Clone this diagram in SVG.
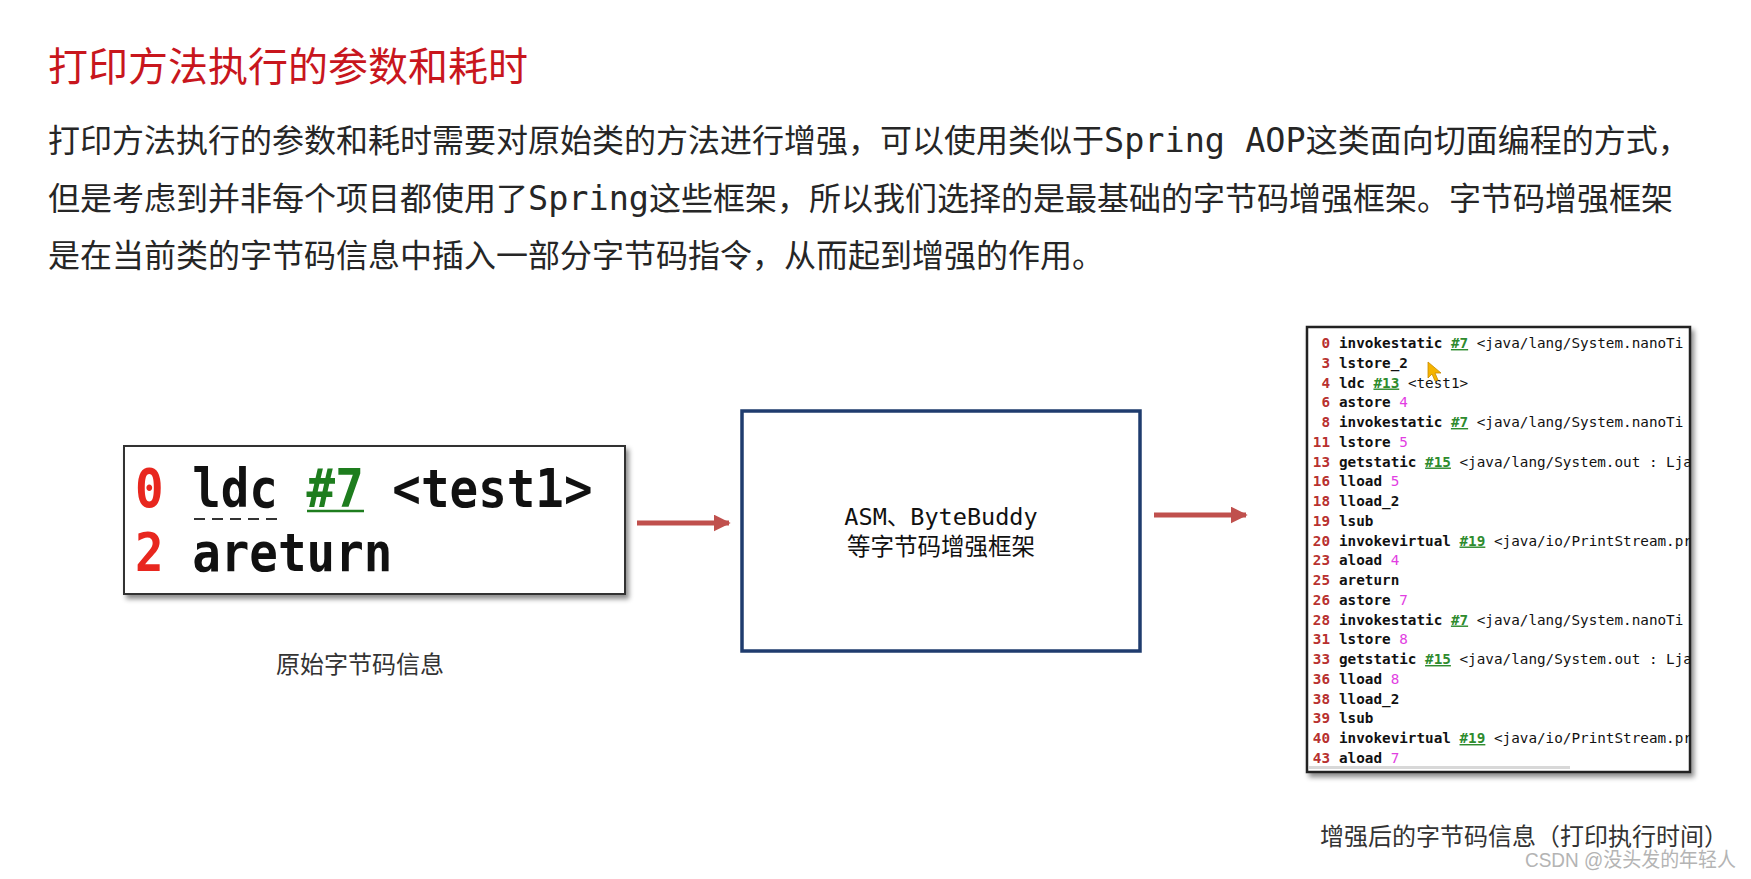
<svg xmlns="http://www.w3.org/2000/svg" width="1751" height="879" viewBox="0 0 1751 879">
<style>
.cjk{font-family:"Noto Sans CJK SC","Noto Sans",sans-serif}
.mono{font-family:"DejaVu Sans Mono","Liberation Mono",monospace}
.title{font-size:40px;fill:#c8161d}
.para{font-size:32px;fill:#262626}
.pmono{font-family:"DejaVu Sans Mono","Liberation Mono",monospace;font-size:33.5px}
.cap{font-size:24px;fill:#333}
.code{font-family:"DejaVu Sans Mono","Liberation Mono",monospace;font-size:14.3px;font-weight:bold;fill:#111}
.num{fill:#b8312f}
.ref{fill:#2e8b2e;text-decoration:underline}
.arg{fill:#e23ee2}
.desc{font-weight:normal}
.big{font-family:"DejaVu Sans Mono","Liberation Mono",monospace;font-size:47.5px;font-weight:bold;fill:#111}
.arrow{stroke:#c0504d;stroke-width:5;fill:none}
</style>
<defs>
<filter id="shadow" x="-10%" y="-10%" width="120%" height="125%">
<feDropShadow dx="3" dy="4" stdDeviation="2.5" flood-color="#000" flood-opacity="0.45"/>
</filter>
<marker id="ah" viewBox="0 0 10 10" refX="9" refY="5" markerWidth="3.4" markerHeight="3.4" orient="auto" markerUnits="strokeWidth">
<path d="M0,0 L10,5 L0,10 z" fill="#c0504d"/>
</marker>
<clipPath id="clipR"><rect x="1307" y="327" width="383" height="445"/></clipPath>
</defs>
<rect width="1751" height="879" fill="#fff"/>

<g id="title">
<text class="cjk title" x="48" y="81">打印方法执行的参数和耗时</text>
</g>

<g id="paragraph" class="cjk para">
<text x="48" y="152">打印方法执行的参数和耗时需要对原始类的方法进行增强，可以使用类似于<tspan class="pmono">Spring AOP</tspan>这类面向切面编程的方式，</text>
<text x="48" y="210">但是考虑到并非每个项目都使用了<tspan class="pmono">Spring</tspan>这些框架，所以我们选择的是最基础的字节码增强框架。字节码增强框架</text>
<text x="48" y="267">是在当前类的字节码信息中插入一部分字节码指令，从而起到增强的作用。</text>
</g>

<g id="node-original">
<rect x="124" y="446" width="501" height="148" fill="#fff" stroke="#333" stroke-width="2" filter="url(#shadow)"/>
<g transform="translate(135,507) scale(1,1.12)">
<text class="big" x="0" y="0"><tspan fill="#e8271f">0</tspan> ldc <tspan fill="#1e7d1e">#7</tspan> &lt;test1&gt;</text>
</g>
<g transform="translate(135,571) scale(1,1.12)">
<text class="big" x="0" y="0"><tspan fill="#e8271f">2</tspan> areturn</text>
</g>
<line x1="307" y1="511" x2="364" y2="511" stroke="#1e7d1e" stroke-width="2.5"/>
<line x1="194" y1="519" x2="280" y2="519" stroke="#333" stroke-width="2" stroke-dasharray="11,7"/>
</g>

<g id="caption-original">
<text class="cjk cap" x="360" y="673" text-anchor="middle">原始字节码信息</text>
</g>

<g id="node-framework">
<rect x="742" y="411" width="398" height="240" fill="#fff" stroke="#1f3c6e" stroke-width="3.5"/>
<text class="cjk" x="941" y="525" text-anchor="middle" font-size="23.5" fill="#111"><tspan class="mono">ASM</tspan>、<tspan class="mono">ByteBuddy</tspan></text>
<text class="cjk" x="941" y="555" text-anchor="middle" font-size="23.5" fill="#111">等字节码增强框架</text>
</g>

<g id="node-enhanced">
<rect x="1307" y="327" width="383" height="445" fill="#fff" stroke="#222" stroke-width="2.5" filter="url(#shadow)"/>
<g clip-path="url(#clipR)">
<g class="code">
<text x="1330" y="348" text-anchor="end" class="num">0</text>
<text x="1339" y="348">invokestatic <tspan class="ref">#7</tspan> <tspan class="desc">&lt;java/lang/System.nanoTi</tspan></text>
<text x="1330" y="367.75" text-anchor="end" class="num">3</text>
<text x="1339" y="367.75">lstore_2</text>
<text x="1330" y="387.5" text-anchor="end" class="num">4</text>
<text x="1339" y="387.5">ldc <tspan class="ref">#13</tspan> <tspan class="desc">&lt;test1&gt;</tspan></text>
<text x="1330" y="407.25" text-anchor="end" class="num">6</text>
<text x="1339" y="407.25">astore <tspan class="arg desc">4</tspan></text>
<text x="1330" y="427" text-anchor="end" class="num">8</text>
<text x="1339" y="427">invokestatic <tspan class="ref">#7</tspan> <tspan class="desc">&lt;java/lang/System.nanoTi</tspan></text>
<text x="1330" y="446.75" text-anchor="end" class="num">11</text>
<text x="1339" y="446.75">lstore <tspan class="arg desc">5</tspan></text>
<text x="1330" y="466.5" text-anchor="end" class="num">13</text>
<text x="1339" y="466.5">getstatic <tspan class="ref">#15</tspan> <tspan class="desc">&lt;java/lang/System.out : Lja</tspan></text>
<text x="1330" y="486.25" text-anchor="end" class="num">16</text>
<text x="1339" y="486.25">lload <tspan class="arg desc">5</tspan></text>
<text x="1330" y="506" text-anchor="end" class="num">18</text>
<text x="1339" y="506">lload_2</text>
<text x="1330" y="525.75" text-anchor="end" class="num">19</text>
<text x="1339" y="525.75">lsub</text>
<text x="1330" y="545.5" text-anchor="end" class="num">20</text>
<text x="1339" y="545.5">invokevirtual <tspan class="ref">#19</tspan> <tspan class="desc">&lt;java/io/PrintStream.pr</tspan></text>
<text x="1330" y="565.25" text-anchor="end" class="num">23</text>
<text x="1339" y="565.25">aload <tspan class="arg desc">4</tspan></text>
<text x="1330" y="585" text-anchor="end" class="num">25</text>
<text x="1339" y="585">areturn</text>
<text x="1330" y="604.75" text-anchor="end" class="num">26</text>
<text x="1339" y="604.75">astore <tspan class="arg desc">7</tspan></text>
<text x="1330" y="624.5" text-anchor="end" class="num">28</text>
<text x="1339" y="624.5">invokestatic <tspan class="ref">#7</tspan> <tspan class="desc">&lt;java/lang/System.nanoTi</tspan></text>
<text x="1330" y="644.25" text-anchor="end" class="num">31</text>
<text x="1339" y="644.25">lstore <tspan class="arg desc">8</tspan></text>
<text x="1330" y="664" text-anchor="end" class="num">33</text>
<text x="1339" y="664">getstatic <tspan class="ref">#15</tspan> <tspan class="desc">&lt;java/lang/System.out : Lja</tspan></text>
<text x="1330" y="683.75" text-anchor="end" class="num">36</text>
<text x="1339" y="683.75">lload <tspan class="arg desc">8</tspan></text>
<text x="1330" y="703.5" text-anchor="end" class="num">38</text>
<text x="1339" y="703.5">lload_2</text>
<text x="1330" y="723.25" text-anchor="end" class="num">39</text>
<text x="1339" y="723.25">lsub</text>
<text x="1330" y="743" text-anchor="end" class="num">40</text>
<text x="1339" y="743">invokevirtual <tspan class="ref">#19</tspan> <tspan class="desc">&lt;java/io/PrintStream.pr</tspan></text>
<text x="1330" y="762.75" text-anchor="end" class="num">43</text>
<text x="1339" y="762.75">aload <tspan class="arg desc">7</tspan></text>
</g>
<rect x="1309" y="766" width="261" height="3" fill="#d8d8d8"/>
</g>
<path d="M1428,362 L1428,378 L1432,374 L1435,381 L1438,380 L1435,373 L1441,373 Z" fill="#f5b400" stroke="#c98a00" stroke-width="0.8"/>
</g>

<g id="caption-enhanced">
<text class="cjk" x="1524" y="845" text-anchor="middle" font-size="24" fill="#333">增强后的字节码信息（打印执行时间）</text>
</g>

<g id="connectors">
<line class="arrow" x1="637" y1="523" x2="729" y2="523" marker-end="url(#ah)"/>
<line class="arrow" x1="1154" y1="515" x2="1246" y2="515" marker-end="url(#ah)"/>
</g>

<g id="watermark">
<text x="1525" y="867" font-family="'Liberation Sans','Noto Sans CJK SC',sans-serif" font-size="20" fill="#b4b4b4" textLength="211" lengthAdjust="spacingAndGlyphs">CSDN @没头发的年轻人</text>
</g>
</svg>
